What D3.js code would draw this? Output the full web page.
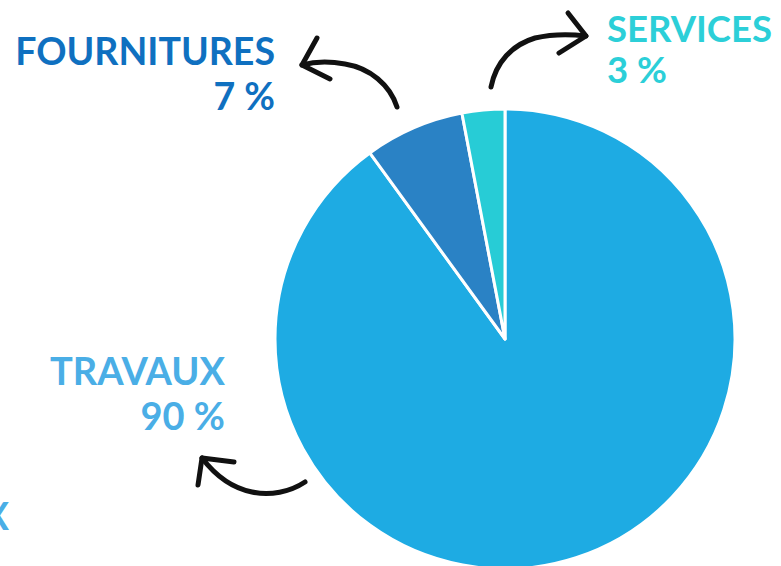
<!DOCTYPE html>
<html>
<head>
<meta charset="utf-8">
<script src="https://cdn.jsdelivr.net/npm/d3@7"></script>
<style>
  body { margin: 0; background: #fff; }
  svg { display: block; }
</style>
</head>
<body>
<div id="chart"></div>
<script>
// data
const categories = ['TRAVAUX', 'FOURNITURES', 'SERVICES'];
const values = [90, 7, 3];
const sliceColors = ['#1eabe3', '#2a82c5', '#27ccd6'];
const labelColors = ['#4aaee6', '#0f70c0', '#2ccfd8'];

const width = 781, height = 566;
const cx = 505, cy = 339, radius = 230;

const svg = d3.select('#chart')
  .append('svg')
  .attr('width', width)
  .attr('height', height);

const pie = d3.pie().sort(null).value(d => d.value);
const arc = d3.arc().innerRadius(0).outerRadius(radius);

const rows = categories.map((c, i) => ({ name: c, value: values[i], color: sliceColors[i], label: labelColors[i] }));

const g = svg.append('g').attr('transform', `translate(${cx},${cy})`);
g.selectAll('path')
  .data(pie(rows))
  .enter()
  .append('path')
  .attr('d', arc)
  .attr('fill', d => d.data.color)
  .attr('stroke', '#fff')
  .attr('stroke-width', 3)
  .attr('stroke-linejoin', 'round');

// labels: [x, y of first line, anchor, line gap, font size]
const labelPos = {
  TRAVAUX: [225, 385, 'end', 45, 38],
  FOURNITURES: [275, 65, 'end', 45, 37.5],
  SERVICES: [607, 42, 'start', 41, 36.5]
};

rows.forEach(r => {
  const [x, y, anchor, gap, size] = labelPos[r.name];
  const t = svg.append('text')
    .attr('x', x).attr('y', y)
    .attr('font-family', 'Lato, sans-serif')
    .attr('font-weight', 700)
    .attr('font-size', size + 'px')
    .attr('fill', r.label)
    .attr('text-anchor', anchor);
  t.append('tspan').attr('x', x).text(r.name);
  t.append('tspan').attr('x', x).attr('dy', gap).text(r.value + ' %');
});

// clipped letter at the lower-left edge, as in the source
svg.append('text')
  .attr('x', 9).attr('y', 530)
  .attr('font-family', 'Lato, sans-serif')
  .attr('font-weight', 700)
  .attr('font-size', '38px')
  .attr('fill', labelColors[0])
  .attr('text-anchor', 'end')
  .text('X');

// hand drawn arrows
const arrows = [
  // fournitures
  { curve: 'M397,107 C390,85 370,68 345,64 C328,61 313,62 302,65', head: 'M317,38 L302,65 L330,79' },
  // services
  { curve: 'M491,87 C496,62 512,45 535,38 C552,34 570,34 586,36', head: 'M568,13 L586,36 L559,53' },
  // travaux
  { curve: 'M305,482 C290,492 270,496 252,492 C232,488 215,475 202,458', head: 'M234,462 L202,458 L198,485' }
];

arrows.forEach(a => {
  svg.append('path').attr('d', a.curve)
    .attr('fill', 'none').attr('stroke', '#111')
    .attr('stroke-width', 5).attr('stroke-linecap', 'round');
  svg.append('path').attr('d', a.head)
    .attr('fill', 'none').attr('stroke', '#111')
    .attr('stroke-width', 5).attr('stroke-linecap', 'round')
    .attr('stroke-linejoin', 'round');
});
</script>
</body>
</html>
